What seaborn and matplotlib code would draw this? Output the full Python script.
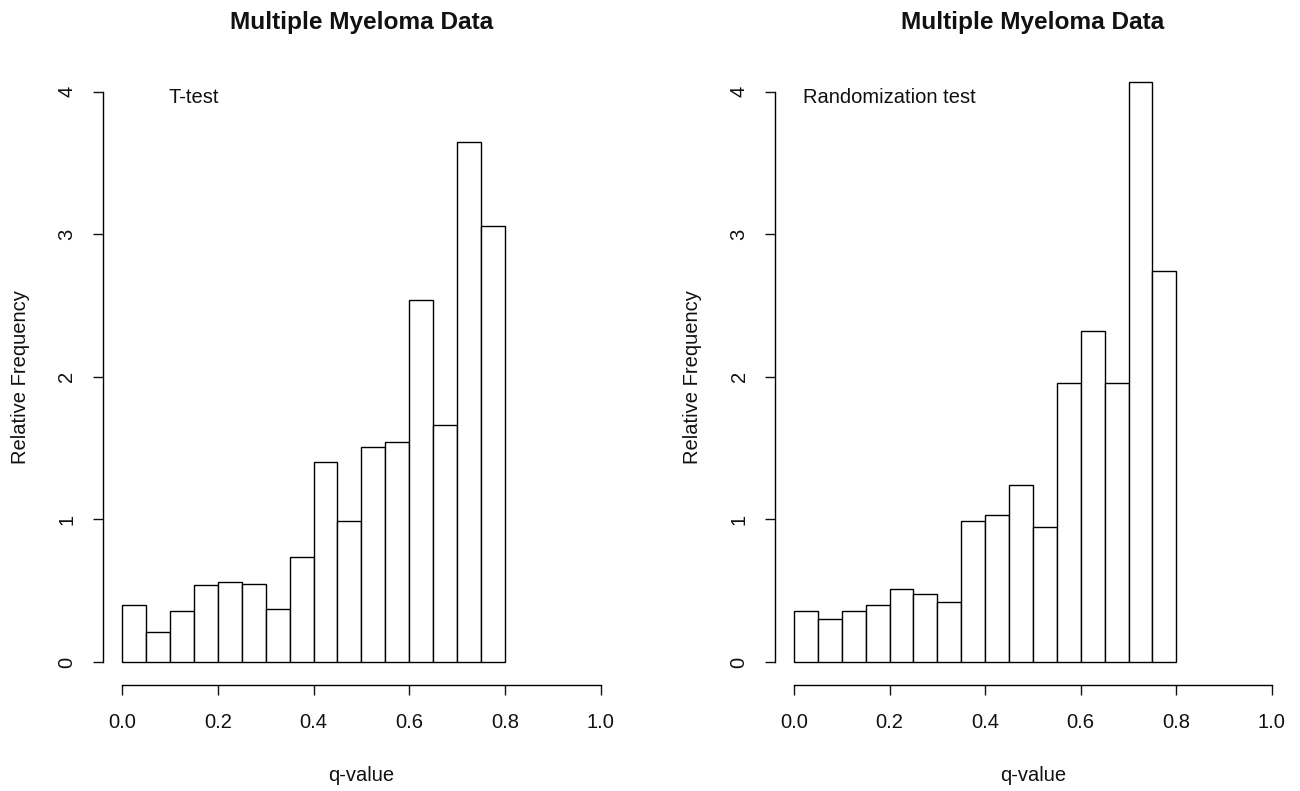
import numpy as np
import pandas as pd
import seaborn as sns
import matplotlib.pyplot as plt

# bin edges of the q-value histograms (width 0.05)
bin_edges = np.round(np.arange(0, 0.8001, 0.05), 2)
bin_mids = (bin_edges[:-1] + bin_edges[1:]) / 2

ttest_freq = [0.40, 0.21, 0.36, 0.54, 0.56, 0.55, 0.37, 0.74,
              1.40, 0.99, 1.51, 1.54, 2.54, 1.66, 3.65, 3.06]
rand_freq = [0.36, 0.30, 0.36, 0.40, 0.51, 0.48, 0.42, 0.99,
             1.03, 1.24, 0.95, 1.96, 2.32, 1.96, 4.07, 2.74]

panel_titles = ["Multiple Myeloma Data", "Multiple Myeloma Data"]
panel_notes = ["T-test", "Randomization test"]
note_x = [0.15, 0.2]
x_ticks = [0.0, 0.2, 0.4, 0.6, 0.8, 1.0]
y_ticks = [0, 1, 2, 3, 4]

sns.set_style("white")
plt.rcParams["font.family"] = ["Liberation Sans", "DejaVu Sans"]
plt.rcParams["text.color"] = "#111111"
plt.rcParams["axes.labelcolor"] = "#111111"
plt.rcParams["xtick.color"] = "#111111"
plt.rcParams["ytick.color"] = "#111111"

W, H = 1300, 791
fig = plt.figure(figsize=(W / 100, H / 100), dpi=100)

# plot regions in pixels: (left, right, top, bottom)
regions = [(102.8, 620.0, 69.0, 684.8), (774.9, 1291.0, 69.0, 684.8)]

for i, freq in enumerate([ttest_freq, rand_freq]):
    l, r, t, b = regions[i]
    ax = fig.add_axes([l / W, 1 - b / H, (r - l) / W, (b - t) / H])
    df = pd.DataFrame({"q": bin_mids, "freq": freq})
    sns.histplot(data=df, x="q", weights="freq", bins=list(bin_edges),
                 stat="count", color="white", edgecolor="black",
                 linewidth=1.0, alpha=1, ax=ax)
    ax.set_xlim(-0.04, 1.04)
    ax.set_ylim(-0.16, 4.16)
    for s in ["top", "right"]:
        ax.spines[s].set_visible(False)
    ax.spines["left"].set_bounds(0, 4)
    ax.spines["bottom"].set_bounds(0, 1)
    for s in ["left", "bottom"]:
        ax.spines[s].set_color("black")
        ax.spines[s].set_linewidth(1.0)
    ax.set_xticks(x_ticks)
    ax.set_xticklabels([f"{v:.1f}" for v in x_ticks])
    ax.set_yticks(y_ticks)
    ax.set_yticklabels([str(v) for v in y_ticks], rotation=90, va="center")
    ax.tick_params(axis="both", direction="out", length=7, width=1.0,
                   labelsize=14.5, pad=12, left=True, bottom=True)
    ax.tick_params(axis="x", pad=13)
    ax.set_xlabel("q-value", fontsize=14.5, labelpad=25)
    ax.set_ylabel("Relative Frequency", fontsize=14.5, labelpad=20)
    ax.text(note_x[i], 3.96, panel_notes[i], fontsize=14.5,
            ha="center", va="center")
    ax.grid(False)
    fig.text((l + r) / 2 / W, 1 - 22 / H, panel_titles[i], fontsize=17.6,
             fontweight="bold", ha="center", va="center")

fig.savefig("out.png", dpi=100, facecolor="white")
